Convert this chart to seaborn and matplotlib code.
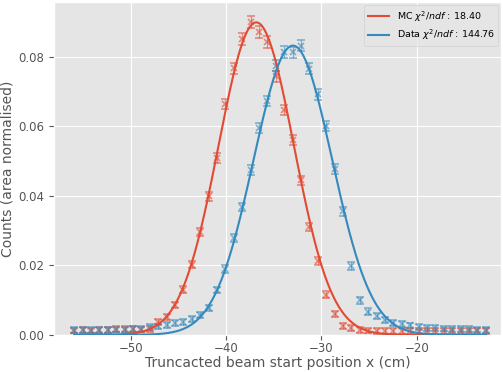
import numpy as np
import pandas as pd
import matplotlib
matplotlib.use("Agg")
import matplotlib.pyplot as plt
import seaborn as sns

# Histogram binning of the truncated beam start position (cm)
bin_lo, bin_hi, n_bins = -56.40, -12.30, 50
centres = bin_lo + (np.arange(n_bins) + 0.5) * (bin_hi - bin_lo) / n_bins

# Area-normalised counts per bin
mc_counts = [
    0.0012, 0.0013, 0.0012, 0.0013, 0.0013, 0.0017, 0.0016, 0.0016, 0.0015, 0.0017,
    0.0038, 0.0051, 0.0086, 0.0130, 0.0202, 0.0295, 0.0399, 0.0510, 0.0665, 0.0768,
    0.0852, 0.0902, 0.0873, 0.0844, 0.0745, 0.0647, 0.0561, 0.0445, 0.0311, 0.0213,
    0.0116, 0.0061, 0.0025, 0.0019, 0.0014, 0.0012, 0.0011, 0.0011, 0.0010, 0.0010,
    0.0010, 0.0010, 0.0010, 0.0010, 0.0010, 0.0010, 0.0010, 0.0010, 0.0010, 0.0010,
]
data_counts = [
    0.0013, 0.0014, 0.0013, 0.0014, 0.0014, 0.0015, 0.0014, 0.0016, 0.0017, 0.0022,
    0.0024, 0.0029, 0.0034, 0.0036, 0.0046, 0.0056, 0.0077, 0.0129, 0.0190, 0.0280,
    0.0368, 0.0475, 0.0595, 0.0674, 0.0775, 0.0815, 0.0814, 0.0833, 0.0767, 0.0693,
    0.0601, 0.0477, 0.0356, 0.0198, 0.0099, 0.0067, 0.0054, 0.0043, 0.0035, 0.0030,
    0.0027, 0.0022, 0.0020, 0.0019, 0.0018, 0.0017, 0.0017, 0.0016, 0.0015, 0.0014,
]

# Gaussian fit results: amplitude, mean, sigma
mc_fit = (0.0900, -36.85, 3.95)
data_fit = (0.0833, -33.00, 4.12)
mc_chi2ndf = 18.40
data_chi2ndf = 144.76

# Uncertainty model: statistical part from the event count plus a flat term
n_events = 40000
flat_err = 0.0008


def gauss(x, amp, mu, sigma):
    return amp * np.exp(-0.5 * ((x - mu) / sigma) ** 2)


plt.style.use("ggplot")
fig = plt.figure(figsize=(5.03, 3.72), dpi=100)
ax = fig.add_axes([0.108, 0.100, 0.889, 0.895])

red = "#E24A33"
blue = "#348ABD"

xfine = np.linspace(centres[0], centres[-1], 600)

series = [
    ("MC", mc_counts, mc_fit, mc_chi2ndf, red),
    ("Data", data_counts, data_fit, data_chi2ndf, blue),
]

for name, counts, fit, chi2, colour in series:
    counts = np.asarray(counts)
    err = np.hypot(np.sqrt(counts / n_events), flat_err)
    ax.errorbar(centres, counts, yerr=err, fmt="x", color=colour, ms=5,
                mew=1.2, elinewidth=0.9, capsize=3, capthick=0.9, alpha=0.6,
                zorder=3)
    curve = pd.DataFrame({"x": xfine, "y": gauss(xfine, *fit)})
    sns.lineplot(data=curve, x="x", y="y", ax=ax, color=colour, lw=1.5,
                 label=f"{name} $\\chi^2/ndf$ : {chi2:.2f}", zorder=4)

ax.set_xlim(-58.05, -11.1)
ax.set_ylim(0.0, 0.0959)
ax.set_xticks([-50, -40, -30, -20])
ax.set_yticks([0.0, 0.02, 0.04, 0.06, 0.08])
ax.yaxis.set_major_formatter(matplotlib.ticker.FormatStrFormatter("%.2f"))
ax.tick_params(labelsize=8.5, colors="#555555")
ax.tick_params(axis="x", pad=2)
ax.set_xlabel("Truncacted beam start position x (cm)", fontsize=10,
              color="#555555", labelpad=0.5)
ax.set_ylabel("Counts (area normalised)", fontsize=10, color="#555555",
              labelpad=3)

leg = ax.legend(loc="upper right", fontsize=6.8, frameon=True,
                handlelength=2.2, borderaxespad=0.35, labelspacing=0.45)

fig.savefig("out.png", dpi=100)
